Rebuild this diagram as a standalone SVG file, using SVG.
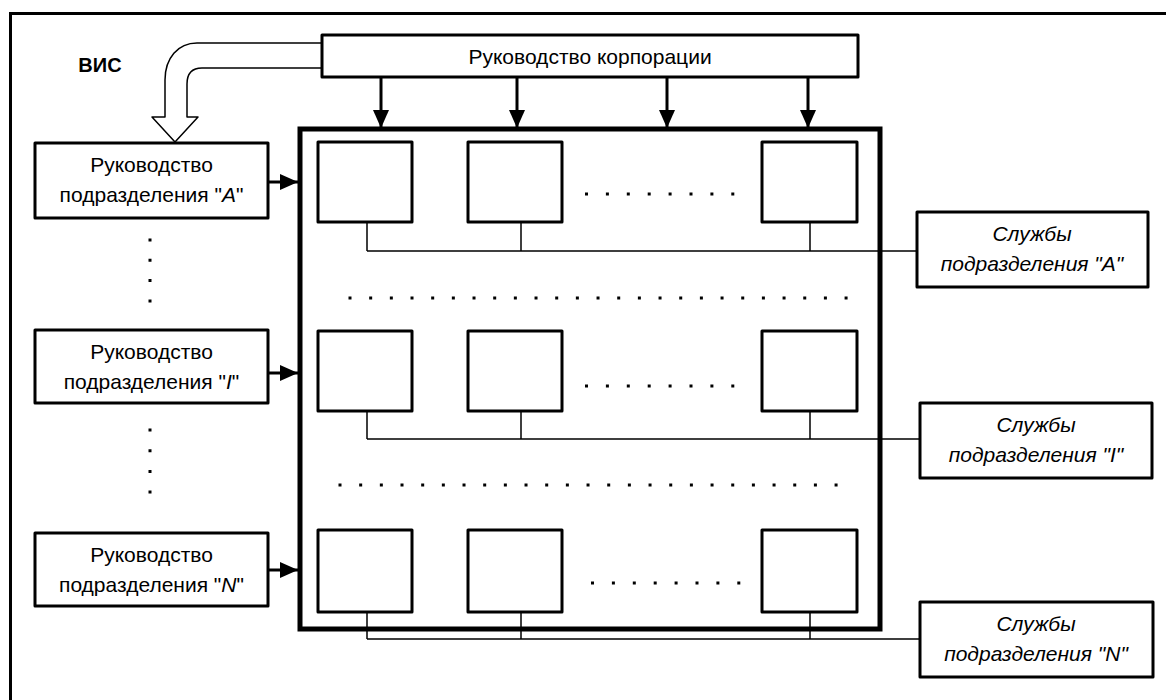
<svg xmlns="http://www.w3.org/2000/svg" width="1166" height="700" viewBox="0 0 1166 700">
<style>
.box{fill:#fff;stroke:#000;stroke-width:3;stroke-linejoin:round}
.big{fill:none;stroke:#000;stroke-width:5}
.t{font-family:"Liberation Sans",Arial,sans-serif;font-size:21px;fill:#000;text-anchor:middle}
.it{font-style:italic}
.bus{stroke:#000;stroke-width:1.5;fill:none}
.arr{stroke:#000;stroke-width:3;fill:none}
.dots{stroke:#000;stroke-width:3;fill:none}
</style>
<defs>
<marker id="ah" viewBox="0 0 18 16" refX="18" refY="8" markerWidth="18" markerHeight="16" markerUnits="userSpaceOnUse" orient="auto">
<path d="M0,0 L18,8 L0,16 Z" fill="#000"/>
</marker>
</defs>
<rect x="0" y="0" width="1166" height="700" fill="#fff"/>
<rect x="10.5" y="13.5" width="1170" height="700" fill="none" stroke="#000" stroke-width="3"/>
<text x="100" y="72" class="t" style="font-weight:bold;font-size:20px">ВИС</text>

<g id="block-arrow">
<path d="M330,43 H197 C178,43 165,58 165,80 V117 H152 L175,142 L198,117 H187 V84 C187,74 192,68 202,68 H330" fill="#fff" stroke="#000" stroke-width="1.5" stroke-linejoin="round"/>
</g>

<g id="top">
<rect class="box" x="322" y="35" width="536" height="42"/>
<text class="t" x="590" y="64">Руководство корпорации</text>
</g>

<g id="big-box">
<rect class="big" x="300" y="129" width="580" height="500"/>
</g>

<g id="connectors">
<line class="arr" x1="381" y1="77" x2="381" y2="128" marker-end="url(#ah)"/>
<line class="arr" x1="517" y1="77" x2="517" y2="128" marker-end="url(#ah)"/>
<line class="arr" x1="667" y1="77" x2="667" y2="128" marker-end="url(#ah)"/>
<line class="arr" x1="808" y1="77" x2="808" y2="128" marker-end="url(#ah)"/>
<line class="arr" x1="268" y1="182" x2="298" y2="182" marker-end="url(#ah)"/>
<line class="arr" x1="268" y1="373" x2="298" y2="373" marker-end="url(#ah)"/>
<line class="arr" x1="268" y1="570" x2="298" y2="570" marker-end="url(#ah)"/>
<path class="bus" d="M367,222 V251 M521,222 V251 M810,222 V251 M367,251 H917"/>
<path class="bus" d="M367,411 V439 M521,411 V439 M810,411 V439 M367,439 H920"/>
<path class="bus" d="M367,612 V639 M521,612 V639 M810,612 V639 M367,639 H920"/>
</g>

<g id="dots">
<path class="dots" d="M150,238.5 V305" stroke-dasharray="3 17.3"/>
<path class="dots" d="M150,428.5 V496" stroke-dasharray="3 17.7"/>
<path class="dots" d="M585,194 H737" stroke-dasharray="3 17.9"/>
<path class="dots" d="M585,386 H737" stroke-dasharray="3 17.9"/>
<path class="dots" d="M591,583 H743" stroke-dasharray="3 17.9"/>
<path class="dots" d="M348.5,298 H850" stroke-dasharray="3 17.67"/>
<path class="dots" d="M338.5,485 H840" stroke-dasharray="3 17.67"/>
</g>

<g id="inner-boxes">
<rect class="box" x="318" y="142" width="94" height="80"/>
<rect class="box" x="468" y="142" width="94" height="80"/>
<rect class="box" x="762" y="142" width="95" height="80"/>
<rect class="box" x="318" y="331" width="94" height="80"/>
<rect class="box" x="468" y="331" width="94" height="80"/>
<rect class="box" x="762" y="331" width="95" height="80"/>
<rect class="box" x="318" y="530" width="94" height="82"/>
<rect class="box" x="468" y="530" width="94" height="82"/>
<rect class="box" x="762" y="530" width="95" height="82"/>
</g>

<g id="mgmt-A">
<rect class="box" x="35" y="143" width="233" height="75"/>
<text class="t" x="151.5" y="172">Руководство</text>
<text class="t" x="151.5" y="202">подразделения "<tspan class="it">A</tspan>"</text>
</g>
<g id="mgmt-I">
<rect class="box" x="35" y="330" width="233" height="73"/>
<text class="t" x="151.5" y="359">Руководство</text>
<text class="t" x="151.5" y="389">подразделения "<tspan class="it">I</tspan>"</text>
</g>
<g id="mgmt-N">
<rect class="box" x="35" y="533" width="233" height="73"/>
<text class="t" x="151.5" y="562">Руководство</text>
<text class="t" x="151.5" y="592">подразделения "<tspan class="it">N</tspan>"</text>
</g>

<g id="svc-A">
<rect class="box" x="917" y="212" width="231" height="75"/>
<text class="t it" x="1032" y="241">Службы</text>
<text class="t it" x="1032" y="271">подразделения "A"</text>
</g>
<g id="svc-I">
<rect class="box" x="920" y="403" width="232" height="75"/>
<text class="t it" x="1036" y="432">Службы</text>
<text class="t it" x="1036" y="462">подразделения "I"</text>
</g>
<g id="svc-N">
<rect class="box" x="920" y="602" width="233" height="75"/>
<text class="t it" x="1036" y="631">Службы</text>
<text class="t it" x="1036" y="661">подразделения "N"</text>
</g>
</svg>
